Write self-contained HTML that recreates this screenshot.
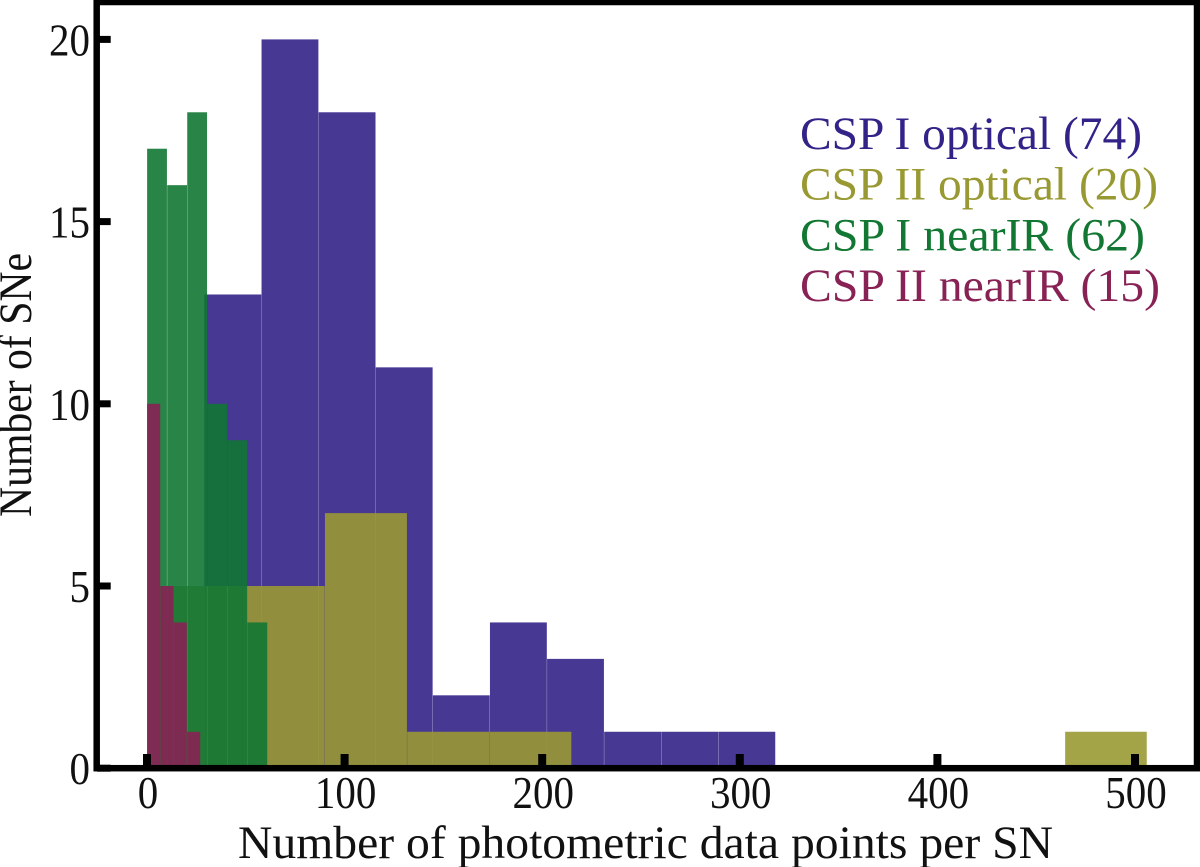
<!DOCTYPE html>
<html lang="en">
<head>
<meta charset="utf-8">
<title>Number of photometric data points per SN</title>
<style>
  html, body { margin: 0; padding: 0; background: #fff; }
  svg { display: block; }
  text { font-family: "Liberation Serif", serif; fill: #111; }
</style>
</head>
<body>
<svg id="chart" xmlns="http://www.w3.org/2000/svg" width="1200" height="867" viewBox="0 0 1200 867">
  <rect x="0" y="0" width="1200" height="867" fill="#fff"/>
  <g id="bars"></g>
  <rect x="96.7" y="2" width="1100.3" height="766.2" fill="none" stroke="#000" stroke-width="6.5"/>
  <g id="ticks"></g>
  <g id="tick-labels"></g>
  <text x="238" y="858" font-size="47" textLength="815" lengthAdjust="spacingAndGlyphs">Number of photometric data points per SN</text>
  <text transform="translate(31,517) rotate(-90)" font-size="47" textLength="264" lengthAdjust="spacingAndGlyphs">Number of SNe</text>
  <g font-size="47">
    <text x="800" y="149" style="fill:#332288" textLength="342" lengthAdjust="spacingAndGlyphs">CSP I optical (74)</text>
    <text x="800" y="199.5" style="fill:#999933" textLength="358" lengthAdjust="spacingAndGlyphs">CSP II optical (20)</text>
    <text x="800" y="250.5" style="fill:#117733" textLength="345" lengthAdjust="spacingAndGlyphs">CSP I nearIR (62)</text>
    <text x="800" y="301" style="fill:#882255" textLength="360" lengthAdjust="spacingAndGlyphs">CSP II nearIR (15)</text>
  </g>
</svg>
<script>
// Histogram data (bin edges in data units, counts per bin)
const cspIOpticalEdges = [28.9, 57.9, 86.8, 115.7, 144.6, 173.5, 202.4, 231.3, 260.2, 289.1, 318];
const cspIOpticalCounts = [13, 20, 18, 11, 2, 4, 3, 1, 1, 1];
const cspIIOpticalEdges = [6.4, 48.2, 90, 131.6, 173.2, 214.8, 464.6, 506];
const cspIIOpticalCounts = [5, 5, 7, 1, 1, 0, 1];
const cspINearIREdges = [0, 10.15, 20.3, 30.45, 40.6, 50.75, 60.9];
const cspINearIRCounts = [17, 16, 18, 10, 9, 4];
const cspIINearIREdges = [0, 6.75, 13.5, 20.2, 27];
const cspIINearIRCounts = [10, 5, 4, 1];
const xTickValues = [0, 100, 200, 300, 400, 500];
const yTickValues = [0, 5, 10, 15, 20];

const NS = 'http://www.w3.org/2000/svg';
function xScale(v) { return 147 + v * 1.976; }
function yScale(v) { return 768.2 - v * 36.44; }

const barsGroup = document.getElementById('bars');
const ticksGroup = document.getElementById('ticks');
const labelsGroup = document.getElementById('tick-labels');

function drawSeries(edges, counts, color, seriesName) {
  for (let i = 0; i < counts.length; i++) {
    if (counts[i] <= 0) continue;
    const r = document.createElementNS(NS, 'rect');
    const x0 = xScale(edges[i]) + 0.12;
    const x1 = xScale(edges[i + 1]) - 0.12;
    const y1 = yScale(counts[i]);
    r.setAttribute('x', x0);
    r.setAttribute('y', y1);
    r.setAttribute('width', x1 - x0);
    r.setAttribute('height', yScale(0) - y1);
    r.setAttribute('fill', color);
    r.setAttribute('fill-opacity', '0.9');
    
    
    barsGroup.appendChild(r);
  }
}

drawSeries(cspIOpticalEdges, cspIOpticalCounts, '#332288', 'csp1-optical');
drawSeries(cspIIOpticalEdges, cspIIOpticalCounts, '#999933', 'csp2-optical');
drawSeries(cspINearIREdges, cspINearIRCounts, '#117733', 'csp1-nearir');
drawSeries(cspIINearIREdges, cspIINearIRCounts, '#882255', 'csp2-nearir');

xTickValues.forEach(function (v) {
  const t = document.createElementNS(NS, 'rect');
  t.setAttribute('x', xScale(v) - 4);
  t.setAttribute('y', 754);
  t.setAttribute('width', 8);
  t.setAttribute('height', 14);
  t.setAttribute('fill', '#000');
  
  
  ticksGroup.appendChild(t);

  const l = document.createElementNS(NS, 'text');
  const label = String(v);
  l.setAttribute('x', xScale(v) + 1);
  l.setAttribute('y', 808);
  l.setAttribute('font-size', '46');
  l.setAttribute('text-anchor', 'middle');
  l.setAttribute('textLength', label.length * 20.5);
  l.setAttribute('lengthAdjust', 'spacingAndGlyphs');
  l.textContent = label;
  
  
  labelsGroup.appendChild(l);
});

yTickValues.forEach(function (v) {
  const t = document.createElementNS(NS, 'rect');
  t.setAttribute('x', 97);
  t.setAttribute('y', yScale(v) - 3.5);
  t.setAttribute('width', 13.7);
  t.setAttribute('height', 7);
  t.setAttribute('fill', '#000');
  
  
  ticksGroup.appendChild(t);

  const l = document.createElementNS(NS, 'text');
  const label = String(v);
  l.setAttribute('x', 90);
  l.setAttribute('y', yScale(v) + 16);
  l.setAttribute('font-size', '46');
  l.setAttribute('text-anchor', 'end');
  l.setAttribute('textLength', label.length * 20.5);
  l.setAttribute('lengthAdjust', 'spacingAndGlyphs');
  l.textContent = label;
  
  
  labelsGroup.appendChild(l);
});
</script>
</body>
</html>
